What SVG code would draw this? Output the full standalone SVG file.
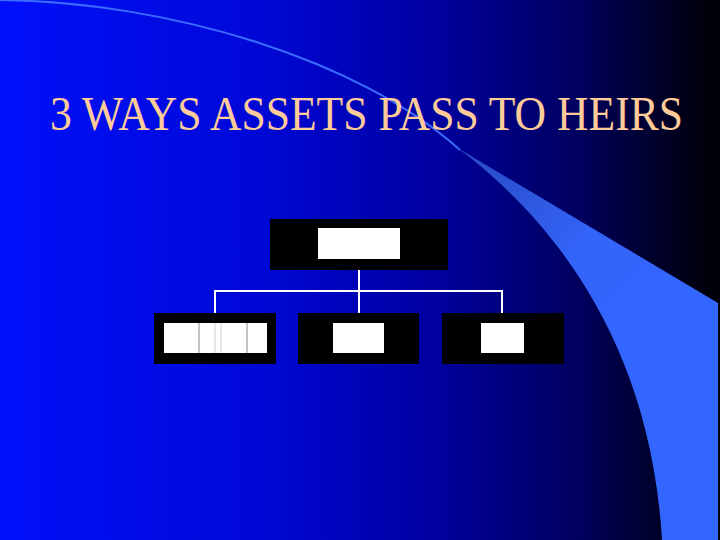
<svg xmlns="http://www.w3.org/2000/svg" width="720" height="540" viewBox="0 0 720 540">
  <defs>
    <linearGradient id="bg" x1="0" y1="0" x2="1" y2="0">
      <stop offset="0" stop-color="#0010fa"/>
      <stop offset="0.35" stop-color="#0008d8"/>
      <stop offset="0.6" stop-color="#0000a0"/>
      <stop offset="0.8" stop-color="#000060"/>
      <stop offset="0.97" stop-color="#000010"/>
      <stop offset="1" stop-color="#000008"/>
    </linearGradient>
    <linearGradient id="wedge" gradientUnits="userSpaceOnUse" x1="460" y1="150" x2="640" y2="330">
      <stop offset="0" stop-color="#2848c0"/>
      <stop offset="0.6" stop-color="#3364f8"/>
      <stop offset="1" stop-color="#3366ff"/>
    </linearGradient>
    <style>
      .title { font-family: "Liberation Serif", "Times New Roman", serif; font-size: 48px; fill: #ffcc99; }
      .box { fill: #000000; }
      .inner { fill: #ffffff; }
      .conn { fill: none; stroke: #ffffff; stroke-width: 2; }
      .sep { stroke: #8a8a8a; stroke-width: 1; }
      .sepl { stroke: #d0d0d0; stroke-width: 1; }
    </style>
  </defs>

  <rect x="0" y="0" width="720" height="540" fill="url(#bg)"/>

  <g id="decoration">
    <path d="M 0,0 C 170,2 360,60 460,150" fill="none" stroke="#3a6cff" stroke-width="2"/>
    <path d="M 456,147 L 718,303 L 718,540 L 662,540 C 650,330 540,210 460,150 Z" fill="url(#wedge)"/>
  </g>

  <g id="title">
    <text class="title" x="50" y="130" textLength="633" lengthAdjust="spacingAndGlyphs">3 WAYS ASSETS PASS TO HEIRS</text>
  </g>

  <g id="connectors">
    <path class="conn" d="M 359,270 L 359,313"/>
    <path class="conn" d="M 215,313 L 215,291 L 502,291 L 502,313"/>
  </g>

  <g id="node-top">
    <rect class="box" x="270" y="219" width="178" height="51"/>
    <rect class="inner" x="318" y="228" width="82" height="31"/>
  </g>

  <g id="node-left">
    <rect class="box" x="154" y="313" width="122" height="51"/>
    <rect class="inner" x="164" y="323" width="103" height="30"/>
    <line class="sep" x1="199" y1="323" x2="199" y2="353"/>
    <line class="sepl" x1="215" y1="323" x2="215" y2="353"/>
    <line class="sepl" x1="221" y1="323" x2="221" y2="353"/>
    <line class="sep" x1="247" y1="323" x2="247" y2="353"/>
  </g>

  <g id="node-middle">
    <rect class="box" x="298" y="313" width="121" height="51"/>
    <rect class="inner" x="333" y="323" width="51" height="30"/>
  </g>

  <g id="node-right">
    <rect class="box" x="442" y="313" width="122" height="51"/>
    <rect class="inner" x="481" y="323" width="43" height="30"/>
  </g>
</svg>
